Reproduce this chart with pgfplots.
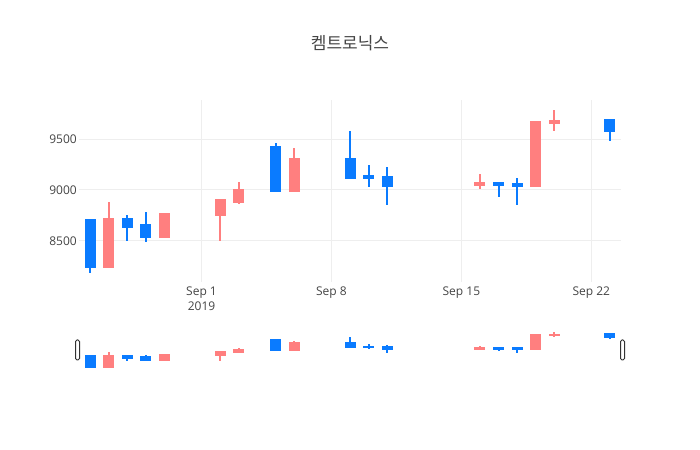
\documentclass[border=0pt]{standalone}
\usepackage{pgfplots}
\pgfplotsset{compat=1.18}
\usepackage{pgfplotstable}
\usepackage{fontspec}
\setmainfont{Open Sans}
\newfontfamily\cjk{Noto Sans CJK KR}

\definecolor{upred}{HTML}{FF7F7F}
\definecolor{downblue}{HTML}{0A7BFF}
\definecolor{txt}{HTML}{444444}
\definecolor{gridc}{HTML}{EEEEEE}

% days counted from Sep 1 2019 = 0
% d O H L C
\pgfplotstableread{
d   O    H    L    C
-6  8700 8700 8180 8240
-4  8710 8750 8500 8640
-3  8660 8780 8490 8540
4   9420 9460 8990 8990
8   9300 9580 9120 9120
9   9140 9250 9030 9120
10  9130 9230 8850 9040
16  9070 9070 8930 9050
17  9060 9120 8850 9040
22  9690 9700 9480 9580
}\down
\pgfplotstableread{
d   O    H    L    C
-5  8240 8880 8240 8710
-2  8540 8770 8540 8760
1   8750 8900 8500 8900
2   8880 9080 8860 9000
5   8990 9410 8990 9300
15  9050 9160 9010 9070
18  9040 9670 9040 9670
19  9660 9790 9580 9680
}\up

\pgfplotsset{
  wick/.style={draw=none, mark=none, forget plot,
    error bars/.cd, y dir=both, y explicit, error mark=none,
    error bar style={line width=2bp, draw=#1, solid}},
  body/.style={draw=none, mark=none, forget plot,
    error bars/.cd, y dir=both, y explicit, error mark=none,
    error bar style={line width=11bp, draw=#1, solid, line cap=butt}},
}

% draws one set of candles
\newcommand\candles[2]{%
  \addplot[wick=#2] table[x=d, y=C,
    y error plus expr=\thisrow{H}-\thisrow{C},
    y error minus expr=\thisrow{C}-\thisrow{L}] {#1};
  \addplot[body=#2] table[x=d, y expr=(\thisrow{O}+\thisrow{C})/2,
    y error plus expr=abs(\thisrow{C}-\thisrow{O})/2+\pad,
    y error minus expr=abs(\thisrow{C}-\thisrow{O})/2+\pad] {#1};
}

\begin{document}
\begin{tikzpicture}
\path[use as bounding box] (0,0) rectangle (700bp,450bp);

\node[text=txt, font=\cjk\fontsize{17bp}{20bp}\selectfont] at (350bp,407bp) {켐트로닉스};

\def\pad{10}
\begin{axis}[
  at={(79bp,168bp)}, anchor=south west,
  width=542bp, height=182bp, scale only axis,
  xmin=-6.6, xmax=22.6, ymin=8095, ymax=9885,
  axis line style={draw=none},
  major tick length=0pt,
  xtick={0,7,14,21},
  xticklabels={{Sep 1\\2019},{Sep 8},{Sep 15},{Sep 22}},
  ytick={8500,9000,9500},
  grid=major,
  grid style={draw=gridc, line width=1bp},
  tick label style={text=txt, font=\fontsize{12bp}{15bp}\selectfont},
  xticklabel style={align=center, anchor=north, inner sep=0pt, yshift=-5bp},
  yticklabel style={anchor=east, inner sep=0pt, xshift=-2bp},
  /pgf/number format/assume math mode=true,
  /pgf/number format/1000 sep={},
  clip=false,
]
\candles{\down}{downblue}
\candles{\up}{upred}
\end{axis}

\def\pad{45}
\begin{axis}[
  at={(79bp,80bp)}, anchor=south west,
  width=542bp, height=40bp, scale only axis,
  xmin=-6.6, xmax=22.6, ymin=8095, ymax=9885,
  hide axis,
  clip=false,
]
\candles{\down}{downblue}
\candles{\up}{upred}
\draw[draw=black!80, fill=white, line width=1bp, rounded corners=1.5bp]
  ([xshift=-3.5bp,yshift=-10bp]rel axis cs:0,0.5) rectangle ([xshift=0.5bp,yshift=10bp]rel axis cs:0,0.5);
\draw[draw=black!80, fill=white, line width=1bp, rounded corners=1.5bp]
  ([xshift=-0.5bp,yshift=-10bp]rel axis cs:1,0.5) rectangle ([xshift=3.5bp,yshift=10bp]rel axis cs:1,0.5);
\end{axis}
\end{tikzpicture}
\end{document}
